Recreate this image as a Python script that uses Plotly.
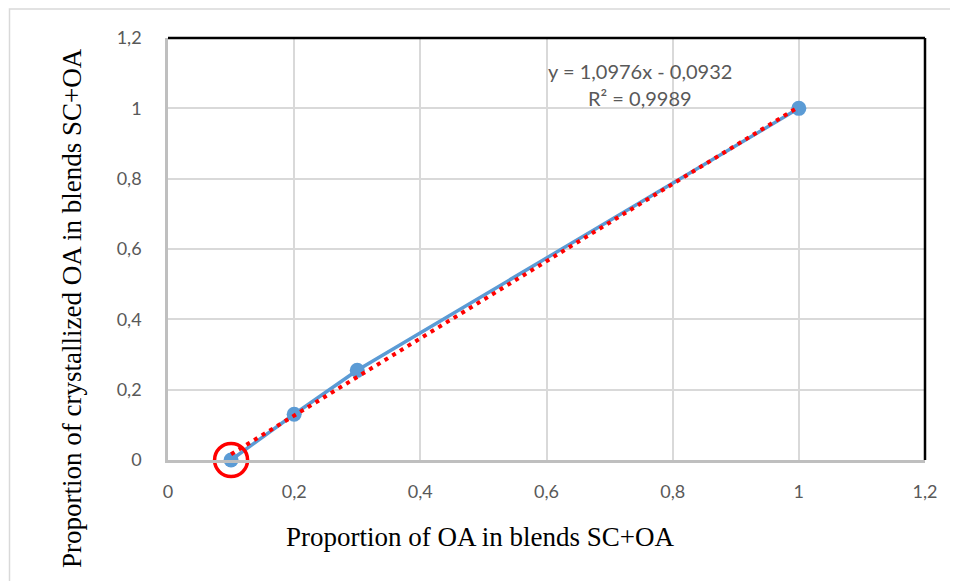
import plotly.graph_objects as go
import numpy as np

# Data
oa_proportion = [0.1, 0.2, 0.3, 1.0]
crystallized_oa = [0.0, 0.13, 0.255, 1.0]
slope = 1.0976
intercept = -0.0932
r_squared = 0.9989
highlight_x = [0.1]
highlight_y = [0.0]
tick_vals = [0, 0.2, 0.4, 0.6, 0.8, 1.0, 1.2]
tick_text = ["0", "0,2", "0,4", "0,6", "0,8", "1", "1,2"]

# the page places the figure 8px from the top-left corner
OFF = 8
W, H = 958 - OFF, 581 - OFF
L, R, T, B = 168 - OFF, 33, 38 - OFF, 121
pw, ph = W - L - R, H - T - B

trend_x = np.array([min(oa_proportion), max(oa_proportion)])
trend_y = slope * trend_x + intercept

fig = go.Figure()
fig.add_trace(go.Scatter(
    x=oa_proportion, y=crystallized_oa, mode="lines+markers",
    line=dict(color="#5B9BD5", width=3.5),
    marker=dict(color="#5B9BD5", size=15),
    showlegend=False, cliponaxis=False))
fig.add_trace(go.Scatter(
    x=trend_x, y=trend_y, mode="lines",
    line=dict(color="#FF0000", width=4, dash="4px,5px"),
    showlegend=False, cliponaxis=False))
fig.add_trace(go.Scatter(
    x=highlight_x, y=highlight_y, mode="markers",
    marker=dict(symbol="circle-open", size=33, color="#FF0000",
                line=dict(color="#FF0000", width=3.5)),
    showlegend=False, cliponaxis=False))

sans = "Lato, Carlito, sans-serif"
serif = "Liberation Serif, Times New Roman, serif"

eq_text = f"y = {slope:.4f}x - {abs(intercept):.4f}".replace(".", ",")
r2_text = f"R² = {r_squared:.4f}".replace(".", ",")
fig.add_annotation(x=0.748, y=1.106, text=eq_text, showarrow=False,
                   font=dict(family=sans, size=20, color="#595959"))
fig.add_annotation(x=0.748, y=1.03, text=r2_text, showarrow=False,
                   font=dict(family=sans, size=20, color="#595959"))

# axis titles
fig.add_annotation(xref="paper", yref="paper",
                   x=(480 - 168) / pw, y=-(537 - 460) / ph,
                   xanchor="center", yanchor="middle", showarrow=False,
                   text="Proportion of OA in blends SC+OA",
                   font=dict(family=serif, size=27, color="black"))
fig.add_annotation(xref="paper", yref="paper",
                   x=-(168 - 72) / pw, y=(460 - 308) / ph,
                   xanchor="center", yanchor="middle", showarrow=False,
                   textangle=-90,
                   text="Proportion of crystallized OA in blends SC+OA",
                   font=dict(family=serif, size=27, color="black"))

axis_common = dict(
    range=[0, 1.2], tickvals=tick_vals, ticktext=tick_text,
    showgrid=True, gridcolor="#D9D9D9", gridwidth=2,
    zeroline=False, ticks="",
    tickfont=dict(family=sans, size=18, color="#595959"),
    showline=True, linecolor="#BFBFBF", linewidth=2.5,
)

fig.update_layout(
    width=W, height=H,
    margin=dict(l=L, r=R, t=T, b=B, autoexpand=False),
    paper_bgcolor="white", plot_bgcolor="white",
    xaxis=dict(**axis_common, ticklabelstandoff=14),
    yaxis=dict(**axis_common, ticklabelstandoff=20),
    shapes=[
        dict(type="line", xref="paper", yref="paper", x0=0, x1=1, y0=1, y1=1,
             line=dict(color="black", width=2.5)),
        dict(type="line", xref="paper", yref="paper", x0=1, x1=1, y0=0, y1=1,
             line=dict(color="black", width=2.5)),
        dict(type="rect", xref="paper", yref="paper",
             x0=-(L - 1.5) / pw, x1=1 + (R + 30) / pw,
             y0=-(B + 30) / ph, y1=1 + (T - 1) / ph,
             line=dict(color="#D9D9D9", width=1.5), layer="below"),
    ],
)

fig.write_html("out.html")
